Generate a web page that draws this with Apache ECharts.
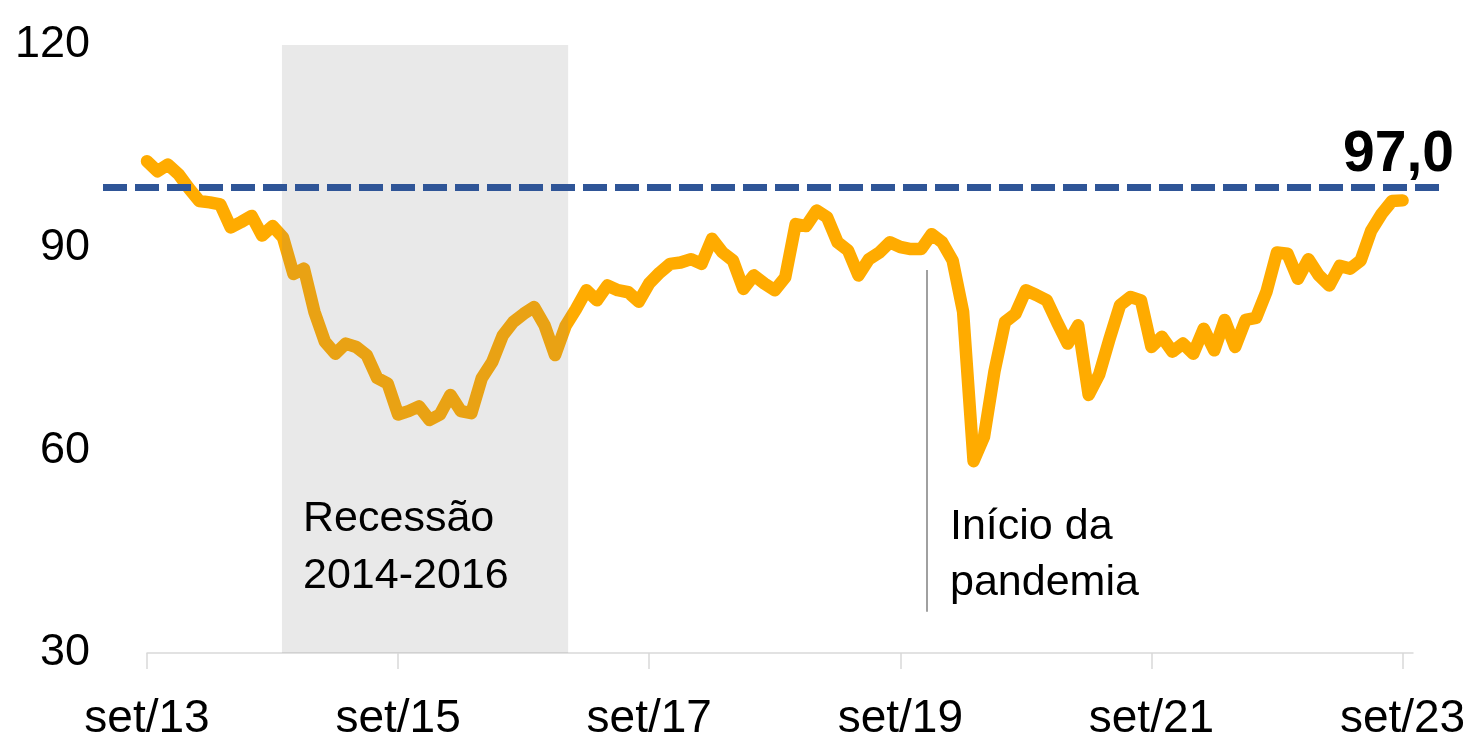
<!DOCTYPE html>
<html>
<head>
<meta charset="utf-8">
<script src="https://cdn.jsdelivr.net/npm/echarts@6/dist/echarts.min.js"></script>
<style>
  html, body { margin: 0; padding: 0; background: #fff; }
  #chart { width: 1474px; height: 749px; }
</style>
</head>
<body>
<div id="chart"></div>
<script>
// monthly index, set/13 .. set/23
const monthNames = ['jan', 'fev', 'mar', 'abr', 'mai', 'jun', 'jul', 'ago', 'set', 'out', 'nov', 'dez'];
const categories = [];
for (let i = 0; i <= 120; i++) {
  const m = (8 + i) % 12;
  const y = 13 + Math.floor((8 + i) / 12);
  categories.push(monthNames[m] + '/' + y);
}

const values = [
  102.8, 101.3, 102.3, 100.9, 98.8, 96.9, 96.7, 96.4, 93.0, 93.8,
  94.7, 91.8, 93.2, 91.5, 86.1, 86.9, 80.5, 76.1, 74.3, 75.8,
  75.3, 74.1, 70.7, 69.9, 65.3, 65.8, 66.5, 64.5, 65.3, 68.2,
  65.8, 65.5, 70.7, 73.1, 77.0, 79.0, 80.2, 81.2, 78.5, 74.1,
  78.4, 80.9, 83.7, 82.2, 84.4, 83.7, 83.4, 82.0, 84.7, 86.3,
  87.6, 87.8, 88.3, 87.6, 91.3, 89.3, 88.1, 83.9, 85.9, 84.7,
  83.7, 85.6, 93.5, 93.2, 95.5, 94.5, 90.8, 89.6, 85.9, 88.3,
  89.3, 90.8, 90.1, 89.8, 89.8, 92.0, 90.8, 88.1, 80.5, 58.4,
  62.0, 71.7, 79.0, 80.2, 83.7, 83.0, 82.2, 78.9, 75.8, 78.5,
  68.2, 71.2, 76.5, 81.5, 82.7, 82.2, 75.3, 76.8, 74.6, 75.8,
  74.3, 78.0, 74.8, 79.3, 75.3, 79.3, 79.6, 83.5, 89.3, 89.1,
  85.4, 88.3, 85.9, 84.4, 87.3, 86.9, 88.1, 92.5, 95.0, 96.9,
  97.0
];

const tickIndexes = [0, 24, 48, 72, 96, 120];
const averageLevel = 98.9;
const recession = [12.9, 40.25];
const pandemicStart = 74.5;
const pandemicLine = [86.7, 36.1];

const chart = echarts.init(document.getElementById('chart'));
const font = 'Liberation Sans, Arial, sans-serif';
const lastValue = values[values.length - 1];

const options = {
  animation: false,
  grid: [
    { left: 147, right: 61, top: 45, bottom: 96 },
    { left: 103, right: 34, top: 45, bottom: 96 }
  ],
  xAxis: [
    {
      type: 'value',
      gridIndex: 0,
      min: 0,
      max: 121,
      splitLine: { show: false },
      axisLine: { lineStyle: { color: '#D9D9D9', width: 1.5 } },
      axisTick: {
        show: true,
        length: 16,
        customValues: tickIndexes,
        lineStyle: { color: '#D9D9D9', width: 1.5 }
      },
      axisLabel: {
        customValues: tickIndexes,
        formatter: (v) => categories[v],
        color: '#000',
        fontSize: 46,
        fontFamily: font,
        margin: 43
      }
    },
    { type: 'value', gridIndex: 1, min: 0, max: 1, show: false }
  ],
  yAxis: [
    {
      type: 'value',
      gridIndex: 0,
      min: 30,
      max: 120,
      interval: 30,
      splitLine: { show: false },
      axisLine: { show: false },
      axisTick: { show: false },
      axisLabel: { color: '#000', fontSize: 45, fontFamily: font, margin: 57 }
    },
    { type: 'value', gridIndex: 1, min: 30, max: 120, show: false }
  ],
  series: [
    {
      name: 'Índice',
      type: 'line',
      xAxisIndex: 0,
      yAxisIndex: 0,
      data: values.map((v, i) => [i, v]),
      showSymbol: false,
      z: 2,
      lineStyle: { color: '#FFAB00', width: 12.5, cap: 'round', join: 'round' },
      markArea: {
        silent: true,
        z: 5,
        itemStyle: { color: 'rgba(121,121,121,0.165)' },
        data: [[{ xAxis: recession[0], yAxis: 30 }, { xAxis: recession[1], yAxis: 120 }]]
      },
      markLine: {
        silent: true,
        symbol: 'none',
        label: { show: false },
        lineStyle: { color: '#808080', width: 1.5, type: 'solid' },
        data: [[{ coord: [pandemicStart, pandemicLine[0]] }, { coord: [pandemicStart, pandemicLine[1]] }]]
      },
      markPoint: {
        silent: true,
        symbol: 'circle',
        symbolSize: 1,
        itemStyle: { color: 'rgba(0,0,0,0)' },
        label: {
          show: true,
          position: 'top',
          distance: 16,
          offset: [-4, 0],
          color: '#000',
          fontSize: 57,
          fontWeight: 'bold',
          fontFamily: font,
          formatter: () => lastValue.toFixed(1).replace('.', ',')
        },
        data: [{ coord: [values.length - 1, lastValue] }]
      }
    },
    {
      name: 'Média',
      type: 'line',
      xAxisIndex: 1,
      yAxisIndex: 1,
      data: [[0, averageLevel], [1, averageLevel]],
      showSymbol: false,
      z: 10,
      lineStyle: { color: '#2F5597', width: 7, type: [24, 8] }
    }
  ],
  graphic: [
    {
      type: 'text',
      left: 303,
      top: 491,
      z: 20,
      style: { text: 'Recessão\n2014-2016', fill: '#000', font: '43px ' + font, lineHeight: 57 }
    },
    {
      type: 'text',
      left: 950,
      top: 499,
      z: 20,
      style: { text: 'Início da\npandemia', fill: '#000', font: '43px ' + font, lineHeight: 56 }
    }
  ]
};

chart.setOption(options);
</script>
</body>
</html>
